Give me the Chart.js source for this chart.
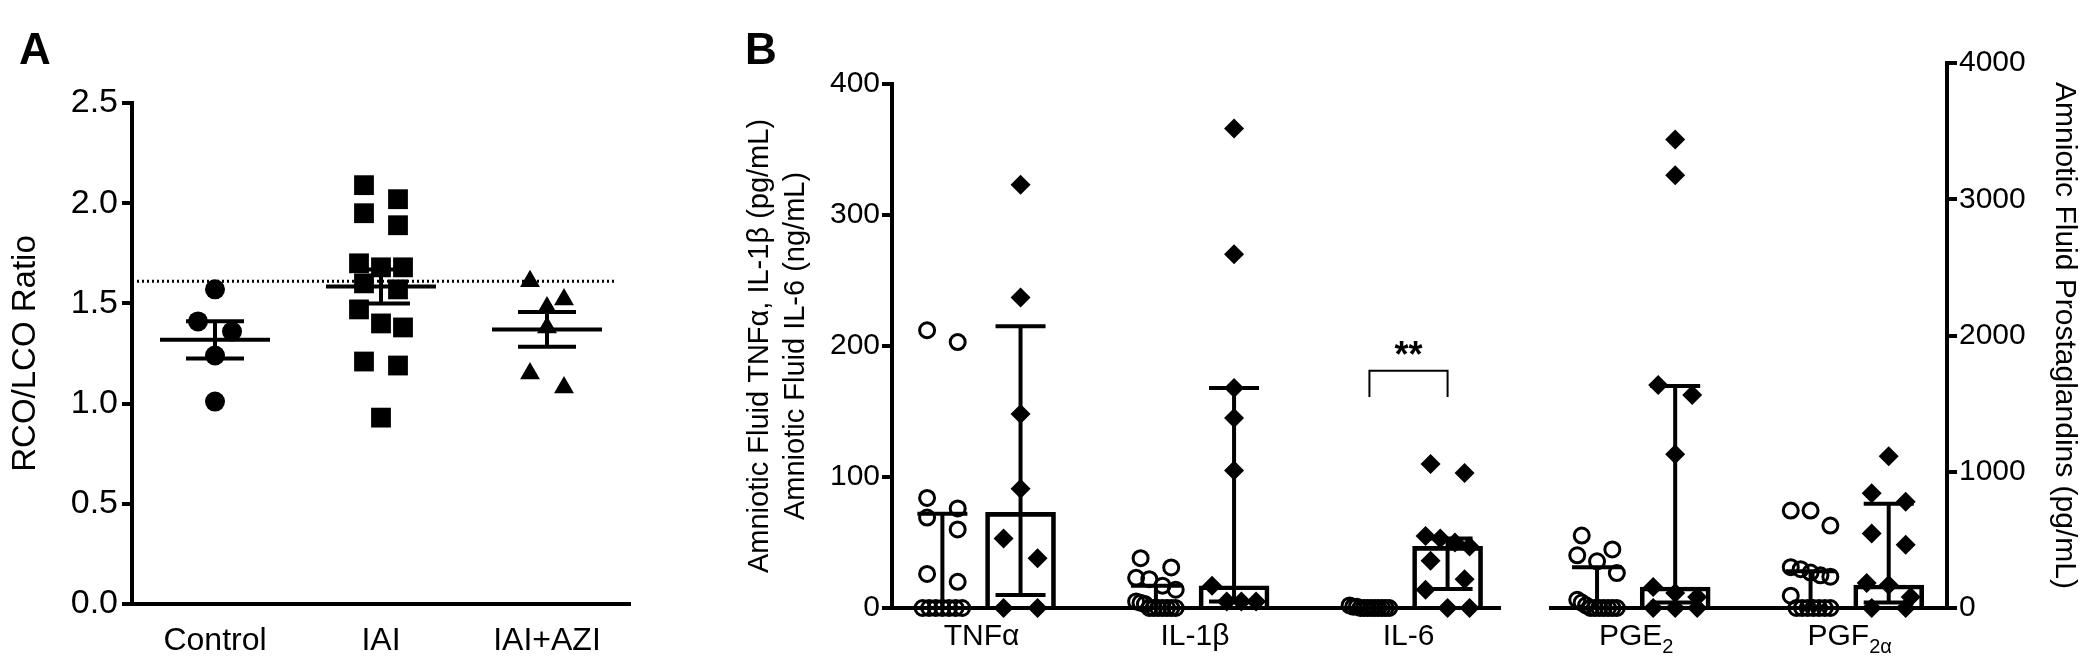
<!DOCTYPE html>
<html>
<head>
<meta charset="utf-8">
<script src="https://cdn.jsdelivr.net/npm/chart.js@4/dist/chart.umd.min.js"></script>
<style>
  body { margin: 0; background: #fff; width: 2082px; height: 660px; position: relative; overflow: hidden; font-family: "Liberation Sans", Arial, sans-serif; }
  canvas { position: absolute; top: 0; }
  #chartA { left: 0; }
  #chartB { left: 700px; }
  .panel { position: absolute; font-weight: bold; font-size: 44px; line-height: 1; color: #000; z-index: 2; }
</style>
</head>
<body>
<canvas id="chartA" width="700" height="660"></canvas>
<canvas id="chartB" width="1382" height="660"></canvas>
<div class="panel" style="left:19px;top:27px">A</div>
<div class="panel" style="left:745px;top:27px">B</div>
<script>
// ---- Panel A data: RCO/LCO ratio per group
const groupsA = ["Control", "IAI", "IAI+AZI"];
const controlRatio = [1.57, 1.41, 1.36, 1.24, 1.01];
const iaiRatio = [2.09, 2.02, 1.95, 1.89, 1.70, 1.68, 1.68, 1.60, 1.57, 1.47, 1.40, 1.38, 1.21, 1.19, 0.93];
const iaiAziRatio = [1.61, 1.52, 1.48, 1.38, 1.15, 1.08];
const refRatio = 1.61;

// ---- Panel B data: amniotic fluid markers, control (open circles) vs IAI (diamonds)
const markers = ["TNFα", "IL-1β", "IL-6", "PGE", "PGF"];
const markerSub = ["", "", "", "2", "2α"];
const markerAxis = ["y", "y", "y", "y2", "y2"];
const leftTicks = [0, 100, 200, 300, 400];
const rightTicks = [0, 1000, 2000, 3000, 4000];
const tnfCtrl = [212, 203, 84, 76, 69, 60, 26, 20, 0, 0, 0, 0, 0, 0, 0];
const tnfIai = [323, 237, 148, 91, 53, 38, 0, 0];
const il1Ctrl = [38, 31, 23, 22, 17, 14, 5, 4, 3, 0, 0, 0, 0, 0, 0, 0];
const il1Iai = [366, 270, 168, 145, 105, 17, 5, 5, 5];
const il6Ctrl = [2, 1, 1, 0, 0, 0, 0, 0, 0, 0, 0, 0];
const il6Iai = [110, 103, 55, 53, 50, 47, 36, 22, 14, 0, 0];
const pgeCtrl = [532, 430, 387, 343, 256, 60, 40, 20, 0, 0, 0, 0, 0, 0, 0];
const pgeIai = [3439, 3177, 1637, 1564, 1128, 154, 110, 81, 0, 0, 0];
const pgfCtrl = [715, 715, 605, 300, 285, 260, 240, 230, 90, 0, 0, 0, 0, 0, 0, 0];
const pgfIai = [1113, 843, 779, 547, 465, 183, 169, 80, 0, 0];
const ctrlPoints = [tnfCtrl, il1Ctrl, il6Ctrl, pgeCtrl, pgfCtrl];
const iaiPoints = [tnfIai, il1Iai, il6Iai, pgeIai, pgfIai];
// medians and interquartile ranges
const ctrlMedian = [0, 0, 0, 0, 0];
const ctrlQ1 = [0, 0, 0, 0, 0];
const ctrlQ3 = [72, 17, 0, 300, 270];
const iaiMedian = [73, 17, 47, 154, 169];
const iaiQ1 = [10, 5, 14.5, 40, 40];
const iaiQ3 = [215, 168, 53, 1630, 765];
const sigPair = 2;      // IL-6 control vs IAI
const sigLevel = 181;
const sigDrop = 20;

// group layout on the x axis (cytokines | prostaglandins, with a break)
const CTRL_OFF = -0.183, IAI_OFF = 0.183;
const groupPos = i => i + (i > 2 ? 0.066 : 0);
const xBreak = [2.433, 2.658];
const FONT = "Liberation Sans";

const mean = a => a.reduce((s, v) => s + v, 0) / a.length;
const sem = a => {
  const m = mean(a);
  return Math.sqrt(a.reduce((s, v) => s + (v - m) * (v - m), 0) / (a.length - 1)) / Math.sqrt(a.length);
};

// spread points that overlap vertically into a row (Prism-like scatter)
const swarm = {
  id: "swarm",
  afterDatasetsUpdate(chart) {
    chart.data.datasets.forEach((ds, i) => {
      if (!ds.swarm) return;
      const pts = chart.getDatasetMeta(i).data;
      const D = ds.swarm;
      const order = pts.map((p, k) => k).sort((a, b) => pts[a].y - pts[b].y);
      let row = [];
      const flush = () => {
        const n = row.length;
        const step = n > 1 ? Math.min(1.7 * D, 2.2 * D / (n - 1)) : 0;
        row.forEach((k, j) => { pts[k].x += (j - (n - 1) / 2) * step; });
        row = [];
      };
      order.forEach(k => {
        if (row.length && pts[k].y - pts[row[0]].y >= D) flush();
        row.push(k);
      });
      flush();
    });
  }
};

function seg(ctx, x1, y1, x2, y2) {
  ctx.beginPath();
  ctx.moveTo(x1, y1);
  ctx.lineTo(x2, y2);
  ctx.stroke();
}

// ---------------- Panel A ----------------
const statsA = {
  id: "statsA",
  afterDatasetsDraw(chart) {
    const { ctx, chartArea, scales: { x, y } } = chart;
    ctx.save();
    ctx.strokeStyle = "#000";
    ctx.fillStyle = "#000";
    ctx.lineWidth = 3;
    ctx.setLineDash([2, 3]);
    const yr = y.getPixelForValue(refRatio);
    seg(ctx, chartArea.left, yr, x.getPixelForValue(2.42), yr);
    ctx.setLineDash([]);
    ctx.lineWidth = 4;
    [controlRatio, iaiRatio, iaiAziRatio].forEach((vals, i) => {
      const m = mean(vals), s = sem(vals);
      const cx = x.getPixelForValue(i);
      const ym = y.getPixelForValue(m), yh = y.getPixelForValue(m + s), yl = y.getPixelForValue(m - s);
      seg(ctx, cx - 55, ym, cx + 55, ym);
      seg(ctx, cx, yh, cx, yl);
      seg(ctx, cx - 29, yh, cx + 29, yh);
      seg(ctx, cx - 29, yl, cx + 29, yl);
    });
    // axis title
    ctx.translate(26, (chartArea.top + chartArea.bottom) / 2);
    ctx.rotate(-Math.PI / 2);
    ctx.font = "33px " + FONT;
    ctx.textAlign = "center";
    ctx.textBaseline = "middle";
    ctx.fillText("RCO/LCO Ratio", 0, 0);
    ctx.restore();
  }
};

const ptA = (vals, i, style, r) => ({
  type: "scatter",
  data: vals.map(v => ({ x: i, y: v })),
  pointStyle: style,
  pointRadius: r,
  backgroundColor: "#000",
  borderColor: "#000",
  borderWidth: 0,
  clip: false,
  swarm: 20
});

new Chart(document.getElementById("chartA"), {
  type: "scatter",
  data: {
    datasets: [
      ptA(controlRatio, 0, "circle", 10),
      ptA(iaiRatio, 1, "rect", 14),
      ptA(iaiAziRatio, 2, "triangle", 11.5)
    ]
  },
  options: {
    responsive: false,
    animation: false,
    events: [],
    layout: { padding: { top: 103, left: 0, right: 70, bottom: 0 } },
    plugins: { legend: { display: false }, tooltip: { enabled: false } },
    scales: {
      x: {
        type: "linear",
        min: -0.5,
        max: 2.5,
        afterBuildTicks: s => { s.ticks = groupsA.map((g, i) => ({ value: i })); },
        afterFit: s => { s.height = 56; },
        ticks: { callback: v => groupsA[v], color: "#000", font: { size: 32, family: FONT }, padding: 10, maxRotation: 0 },
        grid: { display: false },
        border: { display: true, color: "#000", width: 4 }
      },
      y: {
        min: 0,
        max: 2.5,
        afterFit: s => { s.width = 132; },
        ticks: { stepSize: 0.5, callback: v => v.toFixed(1), color: "#000", font: { size: 34, family: FONT }, padding: 4 },
        grid: { drawOnChartArea: false, tickLength: 10, lineWidth: 4, color: "#000" },
        border: { display: true, color: "#000", width: 4 }
      }
    }
  },
  plugins: [swarm, statsA]
});

// ---------------- Panel B ----------------
const decorB = {
  id: "decorB",
  afterDatasetsDraw(chart) {
    const { ctx, chartArea: ca, scales: { x, y } } = chart;
    ctx.save();
    ctx.strokeStyle = "#000";
    ctx.fillStyle = "#000";
    ctx.lineWidth = 4;
    const y0 = y.getPixelForValue(0);
    // left axis only reaches 400
    seg(ctx, ca.left, y0 + 2, ca.left, y.getPixelForValue(400) - 2);
    // broken x axis
    seg(ctx, ca.left - 2, y0, x.getPixelForValue(xBreak[0]), y0);
    seg(ctx, x.getPixelForValue(xBreak[1]), y0, ca.right, y0);
    // median / IQR whiskers
    markers.forEach((m, i) => {
      const ax = chart.scales[markerAxis[i]];
      [[CTRL_OFF, ctrlQ1, ctrlQ3], [IAI_OFF, iaiQ1, iaiQ3]].forEach(([off, lo, hi]) => {
        const cx = x.getPixelForValue(groupPos(i) + off);
        const yl = ax.getPixelForValue(lo[i]), yh = ax.getPixelForValue(hi[i]);
        if (yl - yh < 1) return;
        seg(ctx, cx, yl, cx, yh);
        seg(ctx, cx - 25, yh, cx + 25, yh);
        if (lo[i] > 0) seg(ctx, cx - 25, yl, cx + 25, yl);
      });
    });
    // significance bracket
    ctx.lineWidth = 2;
    const bx1 = x.getPixelForValue(groupPos(sigPair) + CTRL_OFF);
    const bx2 = x.getPixelForValue(groupPos(sigPair) + IAI_OFF);
    const by = y.getPixelForValue(sigLevel), byd = y.getPixelForValue(sigLevel - sigDrop);
    ctx.beginPath();
    ctx.moveTo(bx1, byd); ctx.lineTo(bx1, by); ctx.lineTo(bx2, by); ctx.lineTo(bx2, byd);
    ctx.stroke();
    ctx.font = "bold 36px " + FONT;
    ctx.textAlign = "center";
    ctx.textBaseline = "alphabetic";
    ctx.fillText("**", (bx1 + bx2) / 2, by - 4);
    // left axis title, centred on the 0-400 span
    ctx.save();
    const ty = (y0 + y.getPixelForValue(400)) / 2;
    ctx.translate(60, ty);
    ctx.rotate(-Math.PI / 2);
    ctx.font = "29px " + FONT;
    ctx.textBaseline = "middle";
    ctx.fillText("Amniotic Fluid TNFα, IL-1β (pg/mL)", 0, 0);
    ctx.fillText("Amniotic Fluid IL-6 (ng/mL)", 0, 36);
    ctx.restore();
    // category labels with subscripts
    markers.forEach((m, i) => {
      const cx = x.getPixelForValue(groupPos(i));
      ctx.font = "30px " + FONT;
      const w1 = ctx.measureText(m).width;
      ctx.font = "20px " + FONT;
      const w2 = markerSub[i] ? ctx.measureText(markerSub[i]).width : 0;
      const left = cx - (w1 + w2) / 2;
      ctx.textAlign = "left";
      ctx.font = "30px " + FONT;
      ctx.fillText(m, left, y0 + 37);
      if (markerSub[i]) {
        ctx.font = "20px " + FONT;
        ctx.fillText(markerSub[i], left + w1, y0 + 45);
      }
    });
    ctx.restore();
  }
};

const datasetsB = [];
markers.forEach((m, i) => {
  const axis = markerAxis[i];
  const gx = groupPos(i);
  datasetsB.push({
    type: "bar",
    yAxisID: axis,
    data: [
      { x: gx + CTRL_OFF, y: ctrlMedian[i] },
      { x: gx + IAI_OFF, y: iaiMedian[i] }
    ],
    grouped: false,
    barThickness: 70,
    backgroundColor: "rgba(0,0,0,0)",
    borderColor: "#000",
    borderWidth: 4
  });
  datasetsB.push({
    type: "scatter",
    yAxisID: axis,
    data: ctrlPoints[i].map(v => ({ x: gx + CTRL_OFF, y: v })),
    pointStyle: "circle",
    pointRadius: 7.5,
    backgroundColor: "rgba(0,0,0,0)",
    borderColor: "#000",
    borderWidth: 3,
    clip: false,
    swarm: 18
  });
  datasetsB.push({
    type: "scatter",
    yAxisID: axis,
    data: iaiPoints[i].map(v => ({ x: gx + IAI_OFF, y: v })),
    pointStyle: "rectRot",
    pointRadius: 10,
    backgroundColor: "#000",
    borderColor: "#000",
    borderWidth: 0,
    clip: false,
    swarm: 20
  });
});

new Chart(document.getElementById("chartB"), {
  type: "bar",
  data: { datasets: datasetsB },
  options: {
    responsive: false,
    animation: false,
    events: [],
    layout: { padding: { top: 63, left: 0, right: 0, bottom: 0 } },
    plugins: { legend: { display: false }, tooltip: { enabled: false } },
    scales: {
      x: {
        type: "linear",
        min: -0.419,
        max: 4.522,
        afterBuildTicks: s => { s.ticks = []; },
        afterFit: s => { s.height = 52; },
        ticks: { display: false },
        grid: { display: false },
        border: { display: false }
      },
      y: {
        position: "left",
        min: 0,
        max: 416,
        afterBuildTicks: s => { s.ticks = leftTicks.map(v => ({ value: v })); },
        afterFit: s => { s.width = 192; },
        ticks: { callback: v => String(v), color: "#000", font: { size: 30, family: FONT }, padding: 2 },
        grid: { drawOnChartArea: false, tickLength: 10, lineWidth: 4, color: "#000" },
        border: { display: false }
      },
      y2: {
        position: "right",
        min: 0,
        max: 4000,
        afterBuildTicks: s => { s.ticks = rightTicks.map(v => ({ value: v })); },
        afterFit: s => { s.width = 135; },
        ticks: { callback: v => String(v), color: "#000", font: { size: 30, family: FONT }, padding: 2 },
        grid: { drawOnChartArea: false, tickLength: 10, lineWidth: 4, color: "#000" },
        border: { display: true, color: "#000", width: 4 },
        title: { display: true, text: "Amniotic Fluid Prostaglandins (pg/mL)", color: "#000", font: { size: 30, family: FONT }, padding: { top: 0, bottom: 0 } }
      }
    }
  },
  plugins: [swarm, decorB]
});
</script>
</body>
</html>
